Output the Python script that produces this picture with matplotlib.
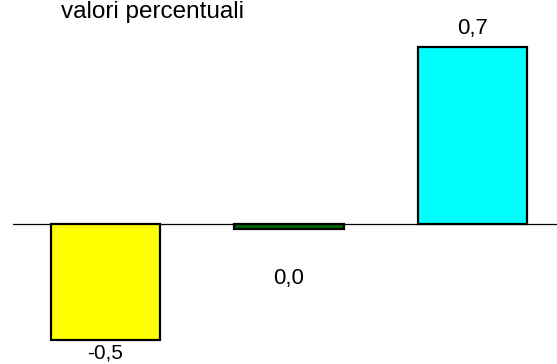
import matplotlib
matplotlib.use("Agg")
import matplotlib.pyplot as plt

categories = ["A", "B", "C"]
values = [-0.46, -0.02, 0.70]
labels = ["-0,5", "0,0", "0,7"]
colors = ["#ffff00", "#006400", "#00ffff"]

plt.rcParams['font.family'] = ['Liberation Sans', 'DejaVu Sans']

fig = plt.figure(figsize=(5.57, 3.64), dpi=100)
ax = fig.add_axes([13/557, 0, 1 - 13/557, 1])
ax.set_axis_off()

x = list(range(len(values)))
ax.bar(x, values, width=0.595, color=colors, edgecolor="black", linewidth=1.6, zorder=3)
ax.axhline(0, color="black", linewidth=0.9, zorder=2)

ax.set_xlim(-0.504, 2.46)
ax.set_ylim(-0.554, 0.886)

# label offsets in points (Excel-like placement)
offsets = [(0, -2, "top"), (0, -28, "top"), (0, 6, "bottom")]
sizes = [15, 16, 16]
for xi, v, lab, (dx, dy, va), fs in zip(x, values, labels, offsets, sizes):
    ax.annotate(lab, xy=(xi, v), xytext=(dx, dy), textcoords="offset points",
                ha="center", va=va, fontsize=fs)

fig.text(61/557, 1 - 1/364, "valori percentuali", ha="left", va="top", fontsize=17.5)

fig.savefig("out.png", dpi=100)
